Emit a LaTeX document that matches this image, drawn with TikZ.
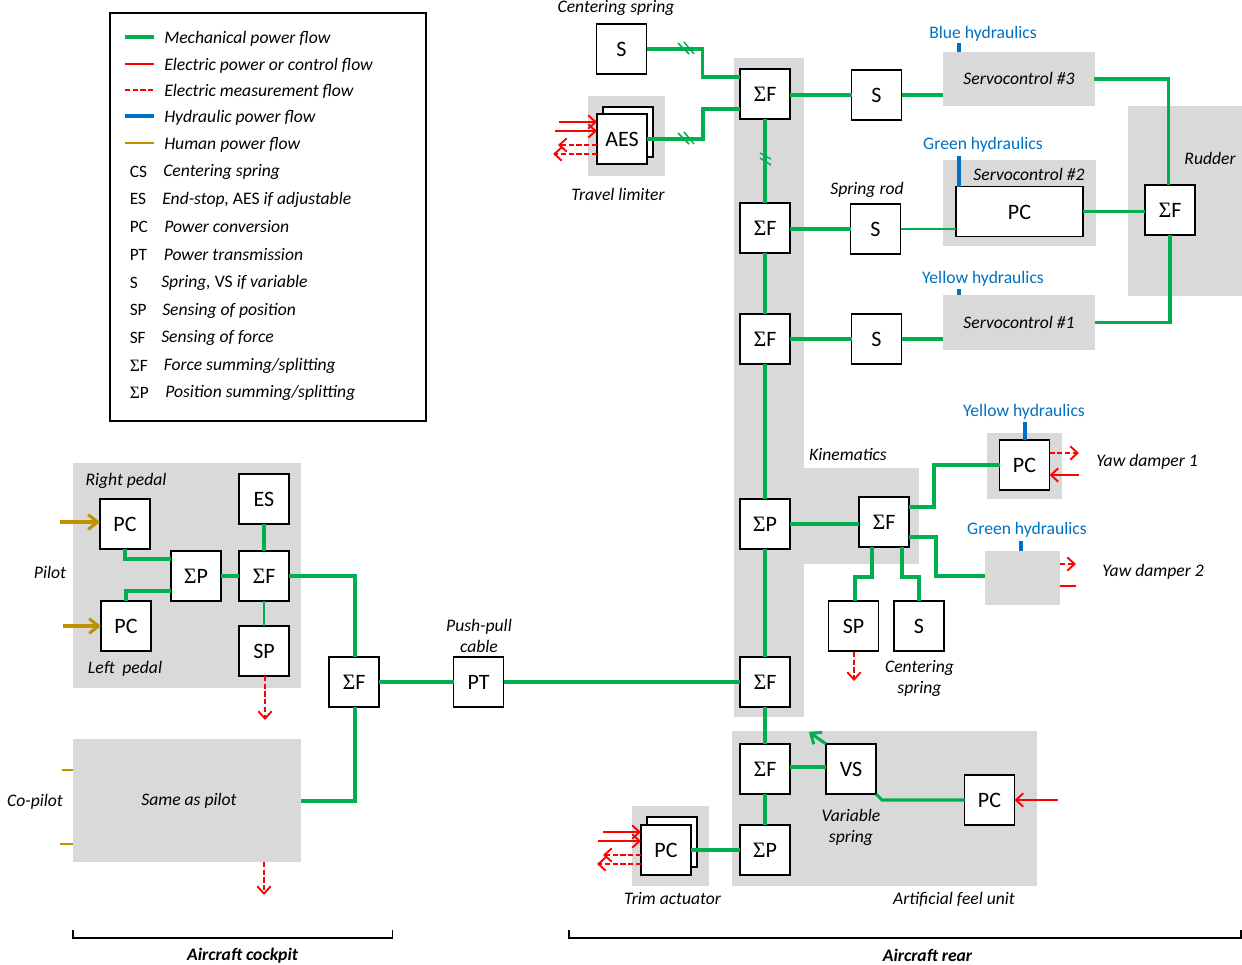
\documentclass[tikz,border=0pt]{standalone}
\usepackage{fontspec}
\setmainfont{Carlito}
\newfontfamily\sigfont{Liberation Serif}
\usetikzlibrary{arrows.meta,calc}
\definecolor{mechc}{HTML}{00B050}
\definecolor{hydc}{HTML}{0070C0}
\definecolor{humc}{HTML}{BF9000}
\definecolor{zonec}{HTML}{D9D9D9}
\newcommand{\SG}{{\sigfont Σ}}
\newcommand{\zone}[5]{\node[zonebox,minimum width={(#4-#2)*0.75pt},minimum height={(#5-#3)*0.75pt}] (#1) at ({(#2+#4)/2},{(#3+#5)/2}) {};}
\newcommand{\blk}[4]{\node[blockbox] (#1) at (#2,#3) {#4};}
\newcommand{\tag}[4]{\node[lab] (#1) at (#2,#3) {#4};}
\newcommand{\hashh}[1]{\draw[mechthin] ($(#1)+(-8,-5)$) -- ($(#1)+(3,6)$); \draw[mechthin] ($(#1)+(-2,-6)$) -- ($(#1)+(8,6)$);}
\newcommand{\hashv}[1]{\draw[mechthin] ($(#1)+(-5,-7)$) -- ($(#1)+(6,-1)$); \draw[mechthin] ($(#1)+(-5,-2)$) -- ($(#1)+(6,5)$);}
\newcommand{\legline}[3]{\coordinate (#1a) at (125,#2); \coordinate (#1b) at (154,#2); \draw[#3] (#1a) -- (#1b);}
\newcommand{\legtxt}[4]{\node[legt,anchor=west] (#1) at (#3,#2) {#4};}
\newcommand{\legabb}[3]{\node[legu,anchor=west] (#1) at (129.5,#2) {#3};}
\tikzset{
  x=0.75pt,y=-0.75pt,
  zonebox/.style={fill=zonec,draw=none,inner sep=0pt,outer sep=0pt},
  blockbox/.style={draw=black,fill=white,line width=1.15pt,minimum size=37.5pt,inner sep=0pt,outer sep=0pt,font=\fontsize{16.5}{19}\selectfont,text height=11.6pt,text depth=0pt},
  lab/.style={font=\fontsize{13.2}{15.8}\selectfont\itshape,inner sep=0pt,align=center},
  hlab/.style={font=\fontsize{13.2}{15}\selectfont,text=hydc,inner sep=0pt},
  legt/.style={font=\fontsize{13.2}{15}\selectfont\itshape,inner sep=0pt},
  legu/.style={font=\fontsize{13}{15}\selectfont,inner sep=0pt},
  mech/.style={draw=mechc,line width=2.3pt},
  mechthin/.style={draw=mechc,line width=1.1pt},
  elec/.style={draw=red,line width=1.4pt},
  meas/.style={draw=red,line width=1.4pt,dash pattern=on 3.8pt off 2pt},
  hyd/.style={draw=hydc,line width=2.3pt},
  human/.style={draw=humc,line width=2.3pt},
  humanthin/.style={draw=humc,line width=1.4pt},
  tipr/.style={-{Straight Barb[length=5.5pt,width=10pt,line width=1.4pt]}},
  tipg/.style={-{Straight Barb[length=6.5pt,width=11pt,line width=2.2pt]}},
  tiph/.style={-{Straight Barb[length=7pt,width=11pt,line width=2.3pt]}},
  brk/.style={draw=black,line width=1.4pt},
}
\begin{document}
\begin{tikzpicture}
\useasboundingbox (0,0) rectangle (1242,964);
% zones
\zone{zcol}{733.5}{58}{803.5}{717}
\zone{zkin}{803}{468}{919}{564}
\zone{zlim}{588}{96}{665}{176}
\zone{zs3}{943}{52}{1095}{106}
\zone{zs2}{943}{160}{1096}{246}
\zone{zs1}{943}{295}{1095}{350}
\zone{zrud}{1128}{106}{1242}{296}
\zone{zyd1}{987}{433}{1062}{499}
\zone{zyd2}{985}{551}{1060}{605}
\zone{zfeel}{732}{731}{1037}{886}
\zone{ztrim}{632}{806}{709}{886}
\zone{zped}{73}{463}{301}{688}
\zone{zsame}{73}{739}{301}{862}
% legend
\node[draw=black,line width=1.1pt,minimum width={316*0.75pt},minimum height={408*0.75pt},inner sep=0pt] (legend) at (268,217) {};
\legline{la}{37}{mech}
\legline{lb}{64}{elec}
\legline{lc}{90}{meas}
\legline{ld}{116}{hyd}
\legline{le}{143}{humanthin}
\legtxt{ta}{38.5}{164}{Mechanical power flow}
\legtxt{tb}{65.5}{164}{Electric power or control flow}
\legtxt{tc}{91.5}{164}{Electric measurement flow}
\legtxt{td}{117.5}{164}{Hydraulic power flow}
\legtxt{te}{144.5}{164}{Human power flow}
\legabb{aa}{171.5}{CS}\legtxt{ba}{172}{163}{Centering spring}
\legabb{ab}{199}{ES}\legtxt{bb}{199.5}{162}{End-stop, {\upshape AES} if adjustable}
\legabb{ac}{226.5}{PC}\legtxt{bc}{227}{164}{Power conversion}
\legabb{ad}{254.5}{PT}\legtxt{bd}{255}{163.5}{Power transmission}
\legabb{ae}{282.5}{S}\legtxt{be}{283}{161}{Spring, {\upshape VS} if variable}
\legabb{af}{310}{SP}\legtxt{bf}{310.5}{162}{Sensing of position}
\legabb{ag}{337.5}{SF}\legtxt{bg}{338}{161}{Sensing of force}
\legabb{ah}{365.5}{\SG F}\legtxt{bh}{366}{163.5}{Force summing/splitting}
\legabb{ai}{392.5}{\SG P}\legtxt{bi}{393}{165}{Position summing/splitting}
% blocks, left
\blk{pcr}{125}{524}{PC}
\blk{pcl}{126}{626}{PC}
\blk{sump}{196}{576}{\SG P}
\blk{sumf}{264}{576}{\SG F}
\blk{es}{264}{499}{ES}
\blk{spl}{264}{651}{SP}
\blk{fo}{354}{682}{\SG F}
\blk{pt}{478.5}{682}{PT}
% main column
\blk{f1}{765}{94}{\SG F}
\blk{f2}{765}{228}{\SG F}
\blk{f3}{765}{339}{\SG F}
\blk{p4}{765}{524}{\SG P}
\blk{f5}{765}{682}{\SG F}
\blk{f6}{765}{769}{\SG F}
\blk{p7}{765}{850}{\SG P}
% top
\blk{s0}{621.5}{49}{S}
\blk{aesb}{628}{132}{}
\blk{aes}{622}{139}{AES}
\blk{s3}{876.5}{95}{S}
\blk{s2}{875.5}{229}{S}
\blk{s1}{876.5}{339}{S}
\node[blockbox,minimum width={127.5*0.75pt}] (pc2) at (1019.5,211.5) {PC};
\blk{fr}{1170}{210}{\SG F}
% kinematics
\blk{fk}{884}{522}{\SG F}
\blk{pcy}{1024.5}{465}{PC}
\blk{spk}{853.5}{626}{SP}
\blk{sk}{919}{626}{S}
% feel
\blk{vs}{851}{769}{VS}
\blk{pcf}{989.5}{800}{PC}
\blk{pctb}{672}{842}{}
\blk{pct}{666}{850}{PC}
% green connectors, left
\draw[mech] (pcr.south) -- ++(0,10) -- (sump.west |- 0,559);
\draw[mech] (pcl.north) -- ++(0,-10) -- (sump.west |- 0,591);
\draw[mech] (sump) -- (sumf);
\draw[mech] (es) -- (sumf);
\draw[mechthin] (sumf) -- (spl);
\draw[mech] (sumf.east) -- ++(66,0) -- ($(fo.north)+(1,0)$);
\draw[mech] (zsame.east |- 0,801) -| ($(fo.south)+(1,0)$);
\draw[mech] (fo) -- (pt);
\draw[mech] (pt) -- (f5);
% main column
\coordinate (hv) at (765,160);
\draw[mech] (f1) -- (f2);
\draw[mech] (f2) -- (f3);
\draw[mech] (f3) -- (p4);
\draw[mech] (p4) -- (f5);
\draw[mech] (f5) -- (f6);
\draw[mech] (f6) -- (p7);
\hashv{hv}
% top left
\coordinate (h0) at (686,48);
\coordinate (h1) at (686,138);
\draw[mech] (s0.east) -- ++(56,0) |- ($(f1.west)+(0,-17)$);
\draw[mech] (aes.east) -- ++(56,0) |- ($(f1.west)+(0,15)$);
\hashh{h0}
\hashh{h1}
% servos
\draw[mech] (s3.west -| f1.east) -- (s3.west);
\draw[mech] (s3.east) -- (s3.east -| zs3.west);
\draw[mech] (s2.west -| f2.east) -- (s2.west);
\draw[mechthin] (s2.east) -- (s2.east -| pc2.west);
\draw[mech] (f3.east) -- (s1.west);
\draw[mech] (s1.east) -- (s1.east -| zs1.west);
\draw[mech] ($(zs3.east)+(-1,0)$) -| ($(fr.north)+(-1.5,0)$);
\draw[mech] (zs1.east) -| (fr.south);
\draw[mech] (pc2.east) -- (pc2.east -| fr.west);
% hydraulics
\coordinate (b3) at (959,43);
\coordinate (b2) at (959,156);
\coordinate (b1) at (959,289);
\draw[hyd] (b3) -- (b3 |- zs3.north);
\draw[hyd] (b2) -- (b2 |- pc2.north);
\draw[hyd] (b1) -- (b1 |- zs1.north);
\coordinate (by) at (1025,422);
\coordinate (bg) at (1021,541);
\draw[hyd] (by) -- (by |- pcy.north);
\draw[hyd] (bg) -- (bg |- zyd2.north);
% kinematics
\draw[mech] (p4.east) -- (p4.east -| fk.west);
\draw[mech] ($(fk.east)+(0,-15)$) -- ++(25,0) |- (pcy.west);
\draw[mech] ($(fk.east)+(0,15)$) -- ++(27,0) |- (zyd2.west |- 0,576);
\draw[mech] ($(fk.south)+(-12,0)$) -- ++(0,30) -- ++(-17,0) -- (spk.north -| 855,0);
\draw[mech] ($(fk.south)+(18,0)$) -- ++(0,30) -| (sk.north);
% feel
\coordinate (vtip) at (809,732);
\draw[mech] (f6.east) ++(0,-2) -- ($(vs.west)+(0,-2)$);
\draw[mech,tipg] (vs.north west) -- (vtip);
\draw[mech] (vs.south east) -- ++(6,6) -- (pcf.west);
\draw[mech] (pct.east) -- (p7.west);
% electric
\coordinate (e1) at (559,122);\coordinate (e2) at (555,131);
\coordinate (e3) at (558,145);\coordinate (e4) at (553,154);
\draw[elec,tipr] (e1) -- (e1 -| aes.west);
\draw[elec,tipr] (e2) -- (e2 -| aes.west);
\draw[meas,tipr] (e3 -| aes.west) -- (e3);
\draw[meas,tipr] (e4 -| aes.west) -- (e4);
\coordinate (t1) at (603,832);\coordinate (t2) at (598,841);
\coordinate (t3) at (603,855);\coordinate (t4) at (597,864);
\draw[elec,tipr] (t1) -- (t1 -| pct.west);
\draw[elec,tipr] (t2) -- (t2 -| pct.west);
\draw[meas,tipr] (t3 -| pct.west) -- (t3);
\draw[meas,tipr] (t4 -| pct.west) -- (t4);
\coordinate (y1) at (1079,453);\coordinate (y2) at (1079,475);
\draw[meas,tipr] (y1 -| pcy.east) -- (y1);
\draw[elec,tipr] (y2) -- (y2 -| pcy.east);
\coordinate (y3) at (1076,564);\coordinate (y4) at (1076,586);
\draw[meas,tipr] (y3 -| zyd2.east) -- (y3);
\draw[elec] (y4 -| zyd2.east) -- (y4);
\coordinate (d1) at (854,681);
\draw[meas,tipr] (spk.south -| d1) ++(0,1) -- (d1);
\coordinate (d2) at (265,720);
\draw[meas,tipr] (spl.south -| d2) -- (d2);
\coordinate (d3) at (264,895);
\draw[meas,tipr] (zsame.south -| d3) -- (d3);
\coordinate (p1) at (1058,800);
\draw[elec,tipr] (p1) -- (pcf.east);
% human
\coordinate (g1) at (60,522);\coordinate (g2) at (63,626);
\draw[human,tiph] (g1) -- (g1 -| pcr.west);
\draw[human,tiph] (g2) -- (pcl.west);
\coordinate (g3) at (62,770);\coordinate (g4) at (60,844);
\draw[humanthin] (g3) -- (g3 -| zsame.west);
\draw[humanthin] (g4) -- (g4 -| zsame.west);
% brackets
\coordinate (c1) at (73,930);\coordinate (c2) at (73,938);\coordinate (c3) at (392.5,938);\coordinate (c4) at (392.5,930);
\draw[brk] (c1) -- (c2) -- (c3) -- (c4);
\coordinate (r1) at (569,930);\coordinate (r2) at (569,938);\coordinate (r3) at (1241,938);\coordinate (r4) at (1241,930);
\draw[brk] (r1) -- (r2) -- (r3) -- (r4);
% labels
\tag{l01}{616}{8}{Centering spring}
\tag{l02}{618}{194}{Travel limiter}
\tag{l03}{867}{190}{Spring rod}
\tag{l04}{1019}{78}{Servocontrol \#3}
\tag{l05}{1029}{174}{Servocontrol \#2}
\tag{l06}{1019}{322}{Servocontrol \#1}
\tag{l07}{1210}{158}{Rudder}
\tag{l08}{848}{454}{Kinematics}
\tag{l09}{1147}{462}{Yaw damper 1}
\tag{l10}{1153}{572}{Yaw damper 2}
\tag{l11}{919.5}{678.5}{Centering\\spring}
\tag{l12}{851}{827}{Variable\\spring}
\tag{l13}{954}{899}{Artificial feel unit}
\tag{l14}{672.5}{898}{Trim actuator}
\tag{l15}{126}{481}{Right pedal}
\tag{l16}{125}{669}{Left\ \ pedal}
\tag{l17}{50}{572}{Pilot}
\tag{l18}{35}{802}{Co-pilot}
\tag{l19}{189}{801}{Same as pilot}
\tag{l20}{479}{635.5}{Push-pull\\cable}
\node[hlab] (h01) at (983,34) {Blue hydraulics};
\node[hlab] (h02) at (983,145) {Green hydraulics};
\node[hlab] (h03) at (983,279) {Yellow hydraulics};
\node[hlab] (h04) at (1024,412) {Yellow hydraulics};
\node[hlab] (h05) at (1027,530) {Green hydraulics};
\node[lab,font=\fontsize{13.2}{15}\selectfont\bfseries\itshape] (b01) at (242.5,956) {Aircraft cockpit};
\node[lab,font=\fontsize{13.2}{15}\selectfont\bfseries\itshape] (b02) at (927.5,955.5) {Aircraft rear};
\end{tikzpicture}
\end{document}
